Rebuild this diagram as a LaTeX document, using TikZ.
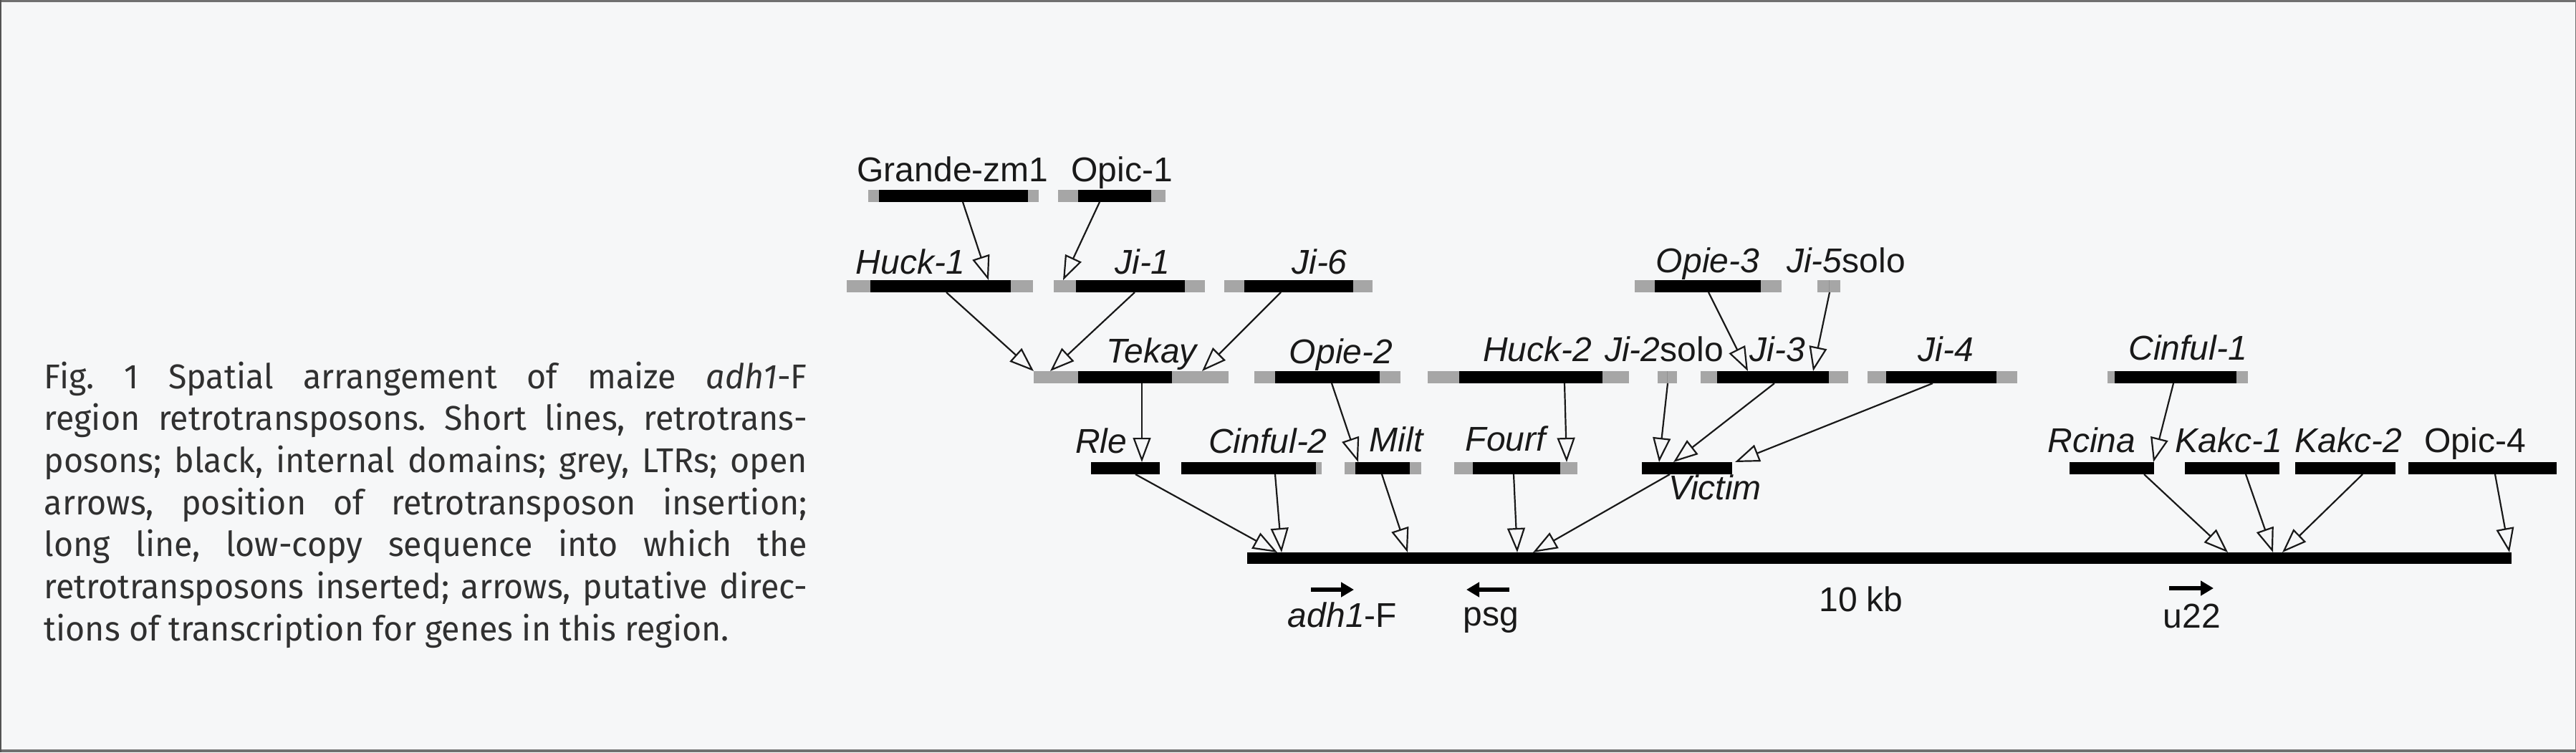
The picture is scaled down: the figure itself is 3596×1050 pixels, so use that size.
\documentclass[tikz,border=0pt]{standalone}
\usepackage{fontspec}
\setmainfont{Liberation Sans}
\newfontfamily\capfont{Fira Sans}[FakeStretch=0.97]
\usetikzlibrary{arrows.meta,calc,fit}
\definecolor{ltr}{HTML}{A6A6A6}
\definecolor{bgc}{HTML}{F6F7F8}
\definecolor{captxt}{HTML}{303030}
\definecolor{frame}{HTML}{707070}
\newcommand\tebox[6]{% name, grey x1, grey x2, black x1, black x2, ytop
  \fill[ltr] (#2,#6) rectangle (#3,#6+17);
  \fill[black] (#4,#6) rectangle (#5,#6+17);
  \node[inner sep=0pt, outer sep=0pt, fit={(#2,#6) (#3,#6+17)}] (#1) {};
}
\newcommand\tecon[5][]{\draw[ins,#1] ($(#2.south west)+(#3,0)$) -- ($(#4.north west)+(#5,0)$);}
\newcommand\capline[1]{\makebox[266.25pt][s]{#1}}
\tikzset{
  ins/.style={draw=black!90, line width=0.55pt, -{Triangle[open, length=8.5pt, width=6.2pt, line width=0.55pt]}},
  lbl/.style={anchor=base, inner sep=0pt, text=black!90, font=\fontsize{12pt}{14pt}\selectfont},
  capl/.style={anchor=base west, inner sep=0pt, text=captxt, font=\capfont\fontsize{12pt}{14pt}\selectfont\frenchspacing},
  gene/.style={draw=black, line width=1.7pt, -{Triangle[length=4.5pt, width=5pt]}}
}
\begin{document}
\begin{tikzpicture}[x=0.25pt,y=-0.25pt]
\useasboundingbox (0,0) rectangle (3596,1050);
\fill[bgc] (0,0) rectangle (3596,1050);
% frame
\draw[frame, line width=0.8pt] (0,1.6) -- (3596,1.6);
\draw[frame, line width=1pt] (0,1048) -- (3596,1048);
\draw[frame!120, line width=0.5pt] (1,0) -- (1,1050);
\draw[frame, line width=0.25pt] (3595.5,0) -- (3595.5,1050);

% caption
\node[capl] (cap1) at (61,542) {\capline{Fig. 1 Spatial arrangement of maize \textit{adh1}-F}};
\node[capl] (cap2) at (61,600.7) {\capline{region retrotransposons. Short lines, retrotrans-}};
\node[capl] (cap3) at (61,659.4) {\capline{posons; black, internal domains; grey, LTRs; open}};
\node[capl] (cap4) at (61,718.1) {\capline{arrows, position of retrotransposon insertion;}};
\node[capl] (cap5) at (61,776.8) {\capline{long line, low-copy sequence into which the}};
\node[capl] (cap6) at (61,835.5) {\capline{retrotransposons inserted; arrows, putative direc-}};
\node[capl] (cap7) at (61,894.2) {tions of transcription for genes in this region.};

% row A
\tebox{grande}{1212}{1450}{1227}{1435}{265}
\tebox{opicA}{1477}{1627}{1505}{1607}{265}
% row B
\tebox{huckA}{1182}{1442}{1215}{1411}{391}
\tebox{jiA}{1471}{1682}{1502}{1654}{391}
\tebox{jiF}{1709}{1916}{1737}{1889}{391}
\tebox{opieC}{2282}{2487}{2310}{2458}{391}
\tebox{jiE}{2537}{2569}{2553}{2553}{391}
% row C
\tebox{tekay}{1443}{1715}{1505}{1636}{518}
\tebox{opieB}{1751}{1955}{1780}{1926}{518}
\tebox{huckB}{1993}{2274}{2037}{2237}{518}
\tebox{jiB}{2314}{2341}{2327}{2327}{518}
\tebox{jiC}{2374}{2580}{2397}{2553}{518}
\tebox{jiD}{2607}{2816}{2633}{2787}{518}
\tebox{cinfulA}{2942}{3138}{2952}{3122}{518}
% row D
\tebox{rle}{1523}{1619}{1523}{1619}{645}
\tebox{cinfulB}{1649}{1845}{1649}{1837}{645}
\tebox{milt}{1877}{1984}{1892}{1968}{645}
\tebox{fourf}{2030}{2202}{2056}{2178}{645}
\tebox{victim}{2292}{2418}{2292}{2418}{645}
\tebox{rcina}{2889}{3007}{2889}{3007}{645}
\tebox{kakcA}{3050}{3182}{3050}{3182}{645}
\tebox{kakcB}{3204}{3344}{3204}{3344}{645}
\tebox{opicD}{3362}{3569}{3362}{3569}{645}
% main line
\fill[black] (1741,771) rectangle (3506,787);
\node[inner sep=0pt, outer sep=0pt, fit={(1741,771) (3506,787)}] (main) {};

% labels
\node[lbl] (lgrande) at (1330,253) {Grande-zm1};
\node[lbl] (lopicA) at (1566,253) {Opic-1};
\node[lbl] (lhuckA) at (1271,382) {\textit{Huck-1}};
\node[lbl] (ljiA) at (1595,382) {\textit{Ji-1}};
\node[lbl] (ljiF) at (1842,382) {\textit{Ji-6}};
\node[lbl] (lopieC) at (2384,380) {\textit{Opie-3}};
\node[lbl] (ljiE) at (2577,380) {\textit{Ji-5}solo};
\node[lbl] (ltekay) at (1609,506) {\textit{Tekay}};
\node[lbl] (lopieB) at (1872,507) {\textit{Opie-2}};
\node[lbl] (lhuckB) at (2146,504) {\textit{Huck-2}};
\node[lbl] (ljiB) at (2323,504) {\textit{Ji-2}solo};
\node[lbl] (ljiC) at (2481,504) {\textit{Ji-3}};
\node[lbl] (ljiD) at (2716,504) {\textit{Ji-4}};
\node[lbl] (lcinfulA) at (3054,502) {\textit{Cinful-1}};
\node[lbl] (lrle) at (1537,632) {\textit{Rle}};
\node[lbl] (lcinfulB) at (1770,632) {\textit{Cinful-2}};
\node[lbl] (lmilt) at (1950,630) {\textit{Milt}};
\node[lbl] (lfourf) at (2104,629) {\textit{Fourf}};
\node[lbl] (lvictim) at (2394,697) {\textit{Victim}};
\node[lbl] (lrcina) at (2920,631) {\textit{Rcina}};
\node[lbl] (lkakcA) at (3111,631) {\textit{Kakc-1}};
\node[lbl] (lkakcB) at (3278,631) {\textit{Kakc-2}};
\node[lbl] (lopicD) at (3455,631) {Opic-4};
\node[lbl] (ladh) at (1874,875) {\textit{adh1}-F};
\node[lbl] (lpsg) at (2081,873) {psg};
\node[lbl] (lscale) at (2598,853) {10 kb};
\node[lbl] (lu) at (3060,876) {u22};

% insertion connectors
\tecon{grande}{132}{huckA}{198}
\tecon{opicA}{58}{jiA}{13}
\tecon{huckA}{139}{tekay}{0}
\tecon{jiA}{113}{tekay}{23}
\tecon{jiF}{79}{tekay}{235}
\tecon{tekay}{151}{rle}{71}
\tecon{opieB}{108}{milt}{19}
\tecon{huckB}{191}{fourf}{157}
\tecon{jiB}{14}{victim}{24}
\tecon{jiC}{103}{victim}{44}
\tecon{jiD}{91}{victim}{130}
\tecon{opieC}{103}{jiC}{66}
\tecon{jiE}{17}{jiC}{157}
\tecon{cinfulA}{92}{rcina}{117}
\tecon{rle}{62}{main}{42}
\tecon{cinfulB}{131}{main}{48}
\tecon{milt}{52}{main}{224}
\tecon{fourf}{83}{main}{377}
\tecon{victim}{39}{main}{399}
\tecon{rcina}{104}{main}{1369}
\tecon{kakcA}{85}{main}{1432}
\tecon{kakcB}{94}{main}{1445}
\tecon{opicD}{121}{main}{1762}

% transcription arrows
\coordinate (adhA) at (1830,823);
\coordinate (adhB) at (1890,823);
\coordinate (psgA) at (2107,823);
\coordinate (psgB) at (2047,823);
\coordinate (uA) at (3028,821);
\coordinate (uB) at (3090,821);
\draw[gene] (adhA) -- (adhB);
\draw[gene] (psgA) -- (psgB);
\draw[gene] (uA) -- (uB);
\end{tikzpicture}
\end{document}
